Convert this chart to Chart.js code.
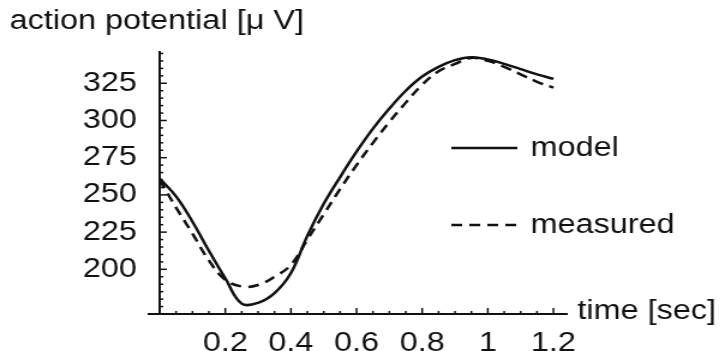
<!DOCTYPE html>
<html>
<head>
<meta charset="utf-8">
<script src="https://cdn.jsdelivr.net/npm/chart.js"></script>
<style>
  body { margin: 0; background: #fff; }
</style>
</head>
<body>
<!-- the original figure is stretched sideways, so the canvas is too -->
<canvas id="chart" width="604" height="351" style="width:725px;height:351px"></canvas>
<script>
// every 0.05 s
var times = [0, 0.05, 0.1, 0.15, 0.2, 0.25, 0.3, 0.35, 0.4, 0.45, 0.5, 0.55, 0.6,
             0.65, 0.7, 0.75, 0.8, 0.85, 0.9, 0.95, 1, 1.05, 1.1, 1.15, 1.2];
var model = [261, 249, 232, 212.5, 194, 177, 177.5, 184, 197.5, 222.5, 244, 262, 279,
             294.5, 308, 320, 329.5, 336, 340.5, 342.5, 341, 338, 334.5, 331, 328];
var measured = [260, 241.5, 224, 206, 193, 188.5, 189.5, 195, 203, 220, 237, 254, 270,
                285, 299, 312, 324, 333, 338, 342, 340, 336, 331, 326, 322];
var seriesNames = ['model', 'measured'];
var xTicks = [0.2, 0.4, 0.6, 0.8, 1, 1.2];
var yTicks = [200, 225, 250, 275, 300, 325];

var ink = '#111';
var fontFamily = '"Liberation Sans", Arial, sans-serif';
Chart.defaults.font.family = fontFamily;
Chart.defaults.font.size = 27;
Chart.defaults.color = ink;

function toPoints(vals) {
    return vals.map(function (v, i) { return { x: times[i], y: v }; });
}
function inList(v, list) {
    return list.some(function (t) { return Math.abs(t - v) < 1e-6; });
}

// inward tick marks, axis titles and the legend inside the plot
var extras = {
    id: 'extras',
    afterDraw: function (chart) {
        var ctx = chart.ctx, xs = chart.scales.x, ys = chart.scales.y, area = chart.chartArea;
        ctx.save();
        ctx.strokeStyle = ink;
        ctx.lineWidth = 1.5;
        xs.ticks.forEach(function (t) {
            if (t.value <= 0 || t.value > 1.2001) return;
            var px = xs.getPixelForValue(t.value);
            var len = inList(t.value, xTicks) ? 6 : 3;
            ctx.beginPath();
            ctx.moveTo(px, area.bottom);
            ctx.lineTo(px, area.bottom - len);
            ctx.stroke();
        });
        ys.ticks.forEach(function (t) {
            if (t.value <= 170 || t.value % 5 !== 0) return;
            var py = ys.getPixelForValue(t.value);
            var len = inList(t.value, yTicks) ? 6 : 3;
            ctx.beginPath();
            ctx.moveTo(area.left, py);
            ctx.lineTo(area.left + len, py);
            ctx.stroke();
        });
        // x axis pokes out a little left of the y axis
        ctx.lineWidth = 2;
        ctx.beginPath();
        ctx.moveTo(area.left - 10, area.bottom);
        ctx.lineTo(area.left, area.bottom);
        ctx.stroke();

        ctx.fillStyle = ink;
        ctx.font = '27px ' + fontFamily;
        ctx.textAlign = 'left';
        ctx.textBaseline = 'middle';
        ctx.fillText('action potential [\u03bc V]', 8, 22);
        ctx.fillText('time [sec]', area.right + 9, area.bottom - 2);

        var legendY = [148, 225];
        chart.data.datasets.forEach(function (ds, i) {
            ctx.lineWidth = ds.borderWidth;
            ctx.setLineDash(ds.borderDash || []);
            ctx.beginPath();
            ctx.moveTo(376, legendY[i]);
            ctx.lineTo(431, legendY[i]);
            ctx.stroke();
            ctx.setLineDash([]);
            ctx.fillText(ds.label, 442, legendY[i] + 1);
        });
        ctx.restore();
    }
};

new Chart(document.getElementById('chart'), {
    type: 'line',
    data: {
        datasets: [{
            label: seriesNames[0],
            data: toPoints(model),
            borderColor: ink,
            borderWidth: 2.5,
            pointRadius: 0,
            tension: 0.4,
            fill: false
        }, {
            label: seriesNames[1],
            data: toPoints(measured),
            borderColor: ink,
            borderWidth: 2.5,
            borderDash: [9, 6],
            pointRadius: 0,
            tension: 0.4,
            fill: false
        }]
    },
    options: {
        responsive: false,
        animation: false,
        layout: { padding: { left: 68, right: 132, top: 52, bottom: 0 } },
        plugins: { legend: { display: false }, tooltip: { enabled: false } },
        scales: {
            x: {
                type: 'linear',
                min: 0,
                max: 1.24,
                grid: { display: false },
                border: { display: true, color: ink, width: 2 },
                afterFit: function (s) { s.height = 37; },
                ticks: {
                    stepSize: 0.05,
                    includeBounds: false,
                    autoSkip: false,
                    maxRotation: 0,
                    padding: 5,
                    callback: function (v) { return inList(v, xTicks) ? String(+v.toFixed(2)) : ''; }
                }
            },
            y: {
                min: 170,
                max: 346,
                grid: { display: false },
                border: { display: true, color: ink, width: 2 },
                afterFit: function (s) { s.width = 65; },
                ticks: {
                    stepSize: 5,
                    includeBounds: false,
                    autoSkip: false,
                    padding: 11,
                    callback: function (v) { return inList(v, yTicks) ? String(v) : ''; }
                }
            }
        }
    },
    plugins: [extras]
});
</script>
</body>
</html>
